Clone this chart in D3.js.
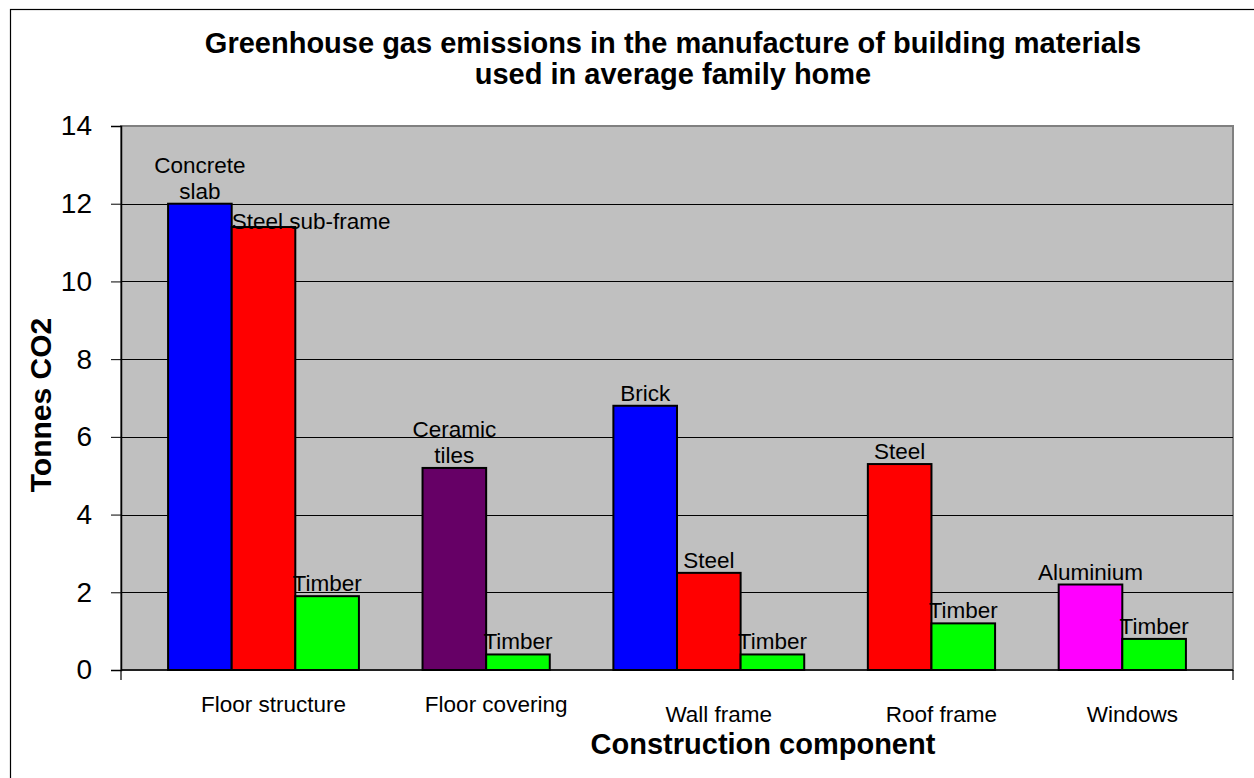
<!DOCTYPE html>
<html>
<head>
<meta charset="utf-8">
<script src="https://cdn.jsdelivr.net/npm/d3@7"></script>
<style>
  body { margin: 0; background: #fff; }
  text { font-family: Arial, "Liberation Sans", sans-serif; fill: #000; }
</style>
</head>
<body>
<svg id="chart" width="1254" height="778"></svg>
<script>
const categories = ["Floor structure", "Floor covering", "Wall frame", "Roof frame", "Windows"];
const materials = [
    ["Concrete\nslab", "Steel sub-frame", "Timber"],
    ["Ceramic\ntiles", "Timber"],
    ["Brick", "Steel", "Timber"],
    ["Steel", "Timber"],
    ["Aluminium", "Timber"]
];
const values = [
    [12, 11.4, 1.9],
    [5.2, 0.4],
    [6.8, 2.5, 0.4],
    [5.3, 1.2],
    [2.2, 0.8]
];
const materialColors = {
    "Concrete\nslab": "#0000ff",
    "Brick": "#0000ff",
    "Steel sub-frame": "#ff0000",
    "Steel": "#ff0000",
    "Timber": "#00ff00",
    "Ceramic\ntiles": "#660066",
    "Aluminium": "#ff00ff"
};
const yTicks = [0, 2, 4, 6, 8, 10, 12, 14];

const plot = {left: 121, right: 1233, top: 126, bottom: 670};

const svg = d3.select("#chart");

// flatten bars, one empty slot between each component
let slot = 0;
const bars = [];
const groups = [];
categories.forEach(function (c, i) {
    const first = slot;
    materials[i].forEach(function (m, j) {
        bars.push({cat: c, material: m, value: values[i][j], slot: slot});
        slot++;
    });
    groups.push({cat: c, first: first, last: slot - 1, idx: i});
    slot++;
});
const nSlots = slot - 1;

const xScale = d3.scaleBand()
    .domain(d3.range(nSlots))
    .range([plot.left, plot.right])
    .paddingInner(0)
    .paddingOuter(0.74);

const yScale = d3.scaleLinear()
    .domain([0, 14])
    .range([plot.bottom, plot.top]);

// outer frame
svg.append("rect")
    .attr("x", 10.5).attr("y", 9.5)
    .attr("width", 1300).attr("height", 900)
    .attr("fill", "none").attr("stroke", "#000").attr("stroke-width", 1.2);

// plot area
svg.append("rect")
    .attr("x", plot.left).attr("y", plot.top)
    .attr("width", plot.right - plot.left).attr("height", plot.bottom - plot.top)
    .attr("fill", "#c0c0c0").attr("stroke", "#808080").attr("stroke-width", 2);

// gridlines
svg.append("g")
    .selectAll("line")
    .data(yTicks.filter(d => d > 0 && d < 14))
    .enter()
    .append("line")
    .attr("x1", plot.left).attr("x2", plot.right)
    .attr("y1", d => Math.round(yScale(d)) + 0.5)
    .attr("y2", d => Math.round(yScale(d)) + 0.5)
    .attr("stroke", "#000").attr("stroke-width", 1);

// y axis
const yAxis = svg.append("g")
    .attr("transform", `translate(${plot.left}, 0)`)
    .call(d3.axisLeft(yScale).tickValues(yTicks).tickSize(10).tickPadding(19));
yAxis.select(".domain").attr("stroke", "#000").attr("stroke-width", 1.5);
yAxis.selectAll(".tick line").attr("stroke", "#000");
yAxis.selectAll(".tick text")
    .attr("font-size", 28)
    .attr("font-family", "Arial, 'Liberation Sans', sans-serif")
    .attr("fill", "#000");

// x axis line with end ticks
svg.append("line")
    .attr("x1", plot.left).attr("x2", plot.right)
    .attr("y1", plot.bottom).attr("y2", plot.bottom)
    .attr("stroke", "#000").attr("stroke-width", 1.5);
svg.append("g")
    .selectAll("line")
    .data([plot.left, plot.right])
    .enter()
    .append("line")
    .attr("x1", d => d).attr("x2", d => d)
    .attr("y1", plot.bottom).attr("y2", plot.bottom + 10)
    .attr("stroke", "#000").attr("stroke-width", 1.2);

// bars
svg.append("g")
    .selectAll(".bar")
    .data(bars)
    .enter()
    .append("rect")
    .attr("class", "bar")
    .attr("x", d => xScale(d.slot))
    .attr("y", d => yScale(d.value))
    .attr("width", xScale.bandwidth())
    .attr("height", d => yScale(0) - yScale(d.value))
    .attr("fill", d => materialColors[d.material])
    .attr("stroke", "#000")
    .attr("stroke-width", 2);

// data labels
const labels = svg.append("g")
    .selectAll("text")
    .data(bars)
    .enter()
    .append("text")
    .attr("font-size", 22.5)
    .attr("text-anchor", "middle")
    .attr("x", d => xScale(d.slot) + xScale.bandwidth() / 2)
    .attr("y", d => yScale(d.value) - 5);

labels.each(function (d) {
    const lines = d.material.split("\n");
    const t = d3.select(this);
    let widest = 0;
    lines.forEach(function (l, k) {
        const ts = t.append("tspan")
            .attr("x", t.attr("x"))
            .attr("dy", k === 0 ? -(lines.length - 1) * 26 : 26)
            .text(l);
        widest = Math.max(widest, ts.node().getComputedTextLength());
    });
    // long labels start at the bar's left edge
    if (widest > 2 * xScale.bandwidth()) {
        t.attr("text-anchor", "start").selectAll("tspan").attr("x", xScale(d.slot));
        t.attr("y", yScale(d.value) + 2);
    }
});

// component labels
svg.append("g")
    .selectAll("text")
    .data(groups)
    .enter()
    .append("text")
    .attr("font-size", 22.5)
    .attr("text-anchor", "middle")
    .attr("x", d => (xScale(d.first) + xScale(d.last) + xScale.bandwidth()) / 2 + 10)
    .attr("y", d => d.idx < 2 ? 712 : 722)
    .text(d => d.cat);

// titles
svg.append("text")
    .attr("text-anchor", "middle")
    .attr("font-size", 29).attr("font-weight", "bold")
    .attr("x", 673).attr("y", 53)
    .text("Greenhouse gas emissions in the manufacture of building materials");
svg.append("text")
    .attr("text-anchor", "middle")
    .attr("font-size", 29).attr("font-weight", "bold")
    .attr("x", 673).attr("y", 84)
    .text("used in average family home");

svg.append("text")
    .attr("text-anchor", "middle")
    .attr("font-size", 29).attr("font-weight", "bold")
    .attr("x", 763).attr("y", 754)
    .text("Construction component");

svg.append("text")
    .attr("text-anchor", "middle")
    .attr("font-size", 30).attr("font-weight", "bold")
    .attr("transform", "translate(51, 405) rotate(-90)")
    .text("Tonnes CO2");
</script>
</body>
</html>
